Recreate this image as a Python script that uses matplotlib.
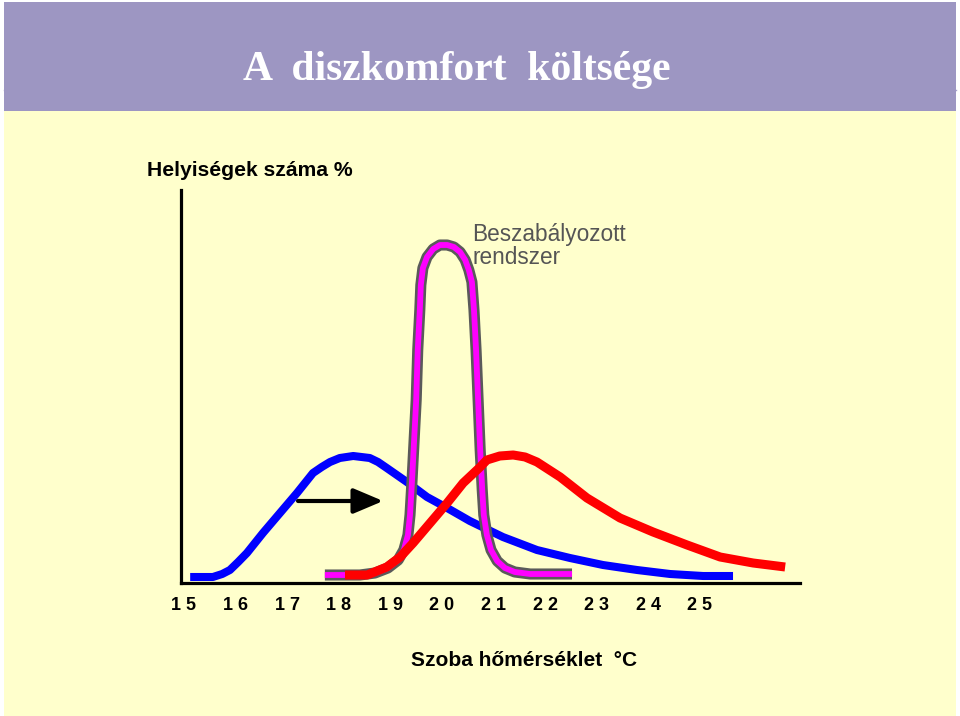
import matplotlib
matplotlib.use("Agg")
import matplotlib.pyplot as plt
from matplotlib.patches import Rectangle

# -----------------------------
# DATA
# -----------------------------

tick_values = [15, 16, 17, 18, 19, 20, 21, 22, 23, 24, 25]
tick_labels = ["1 5", "1 6", "1 7", "1 8", "1 9", "2 0", "2 1", "2 2", "2 3", "2 4", "2 5"]

# unregulated system (blue)
blue_t = [15.12, 15.56, 15.74, 15.89, 16.05, 16.22, 16.53, 16.86, 17.19, 17.50,
          17.67, 17.83, 18.02, 18.28, 18.60, 18.76, 18.93, 19.32, 19.71, 20.10,
          20.54, 21.18, 21.84, 22.48, 23.12, 23.78, 24.42, 25.06, 25.64]
blue_y = [0.6, 0.6, 0.9, 1.3, 2.1, 3.0, 5.0, 7.0, 9.0, 11.0,
          11.6, 12.1, 12.5, 12.7, 12.5, 12.1, 11.5, 10.1, 8.6, 7.5,
          6.2, 4.6, 3.3, 2.5, 1.8, 1.3, 0.9, 0.7, 0.7]

# shifted system (red)
red_t = [18.12, 18.55, 18.93, 19.19, 19.44, 19.77, 20.10, 20.41, 20.74, 20.87,
         21.12, 21.38, 21.61, 21.84, 22.29, 22.81, 23.45, 24.09, 24.75, 25.39,
         26.03, 26.65]
red_y = [0.8, 0.8, 1.6, 2.6, 4.0, 6.0, 8.0, 10.0, 11.6, 12.3,
         12.7, 12.8, 12.6, 12.1, 10.6, 8.5, 6.5, 5.1, 3.8, 2.6,
         2.0, 1.6]

# regulated system (magenta)
mag_t = [17.73, 18.41, 18.70, 18.95, 19.15, 19.26, 19.34, 19.38, 19.42, 19.46,
         19.50, 19.53, 19.57, 19.59, 19.63, 19.71, 19.83, 19.96, 20.10, 20.23,
         20.35, 20.45, 20.52, 20.58, 20.62, 20.66, 20.70, 20.74, 20.78, 20.81,
         20.87, 20.95, 21.07, 21.22, 21.41, 21.71, 22.52]
mag_y = [0.8, 0.8, 1.0, 1.5, 2.3, 3.3, 4.8, 6.8, 10.3, 14.3,
         18.3, 23.3, 27.3, 29.8, 31.5, 32.6, 33.4, 33.8, 33.8, 33.6,
         33.1, 32.3, 31.3, 30.1, 27.3, 23.3, 18.3, 13.3, 9.3, 6.8,
         4.8, 3.3, 2.2, 1.5, 1.1, 0.9, 0.9]

# shift arrow
arrow_from = (17.21, 8.2)
arrow_to = (18.86, 8.2)

W, H = 960, 716


def fx(px):
    return px / W


def fy(py):
    return 1 - py / H


fig = plt.figure(figsize=(9.6, 7.16), dpi=100, facecolor="white")

# slide background
fig.patches.append(Rectangle((fx(4), 0), fx(952), fy(111), transform=fig.transFigure,
                             facecolor="#FFFFCC", edgecolor="none", zorder=0))
fig.patches.append(Rectangle((fx(4), fy(111)), fx(952), 109 / H, transform=fig.transFigure,
                             facecolor="#9D96C2", edgecolor="none", zorder=0))
fig.lines.append(plt.Line2D([fx(4), fx(956)], [fy(90), fy(90)], transform=fig.transFigure,
                            color="#A9A2CB", lw=1, zorder=0))

fig.text(fx(457), fy(80), "A  diszkomfort  költsége", family="Liberation Serif",
         weight="bold", fontsize=30, color="white", ha="center", va="baseline")

# -----------------------------
# CHART
# -----------------------------

ax = fig.add_axes([fx(181), fy(583), fx(800 - 181), (583 - 190) / H])
ax.set_zorder(2)
ax.set_facecolor("none")

ax.plot(blue_t, blue_y, color="#0000FF", lw=5.8, solid_capstyle="butt",
        solid_joinstyle="round", zorder=2)
ax.plot(mag_t, mag_y, color="#5A5A5A", lw=8, solid_capstyle="butt",
        solid_joinstyle="round", zorder=3)
ax.plot(mag_t, mag_y, color="#FF00FF", lw=4.2, solid_capstyle="butt",
        solid_joinstyle="round", zorder=4)
ax.plot(red_t, red_y, color="#FF0000", lw=6.5, solid_capstyle="butt",
        solid_joinstyle="round", zorder=5)

ax.annotate("", xy=arrow_to, xytext=arrow_from,
            arrowprops=dict(arrowstyle="-|>,head_length=1.3,head_width=0.55",
                            mutation_scale=14, color="black", lw=3,
                            shrinkA=0, shrinkB=0), zorder=6)

ax.set_xlim(14.942, 26.938)
ax.set_ylim(0, 39.3)

for side in ["top", "right"]:
    ax.spines[side].set_visible(False)
for side in ["left", "bottom"]:
    ax.spines[side].set_linewidth(2.3)
    ax.spines[side].set_color("black")

ax.set_yticks([])
ax.set_xticks(tick_values)
ax.set_xticklabels(tick_labels, family="Liberation Sans", weight="bold", fontsize=13)
ax.tick_params(axis="x", length=0, pad=10)

fig.text(fx(147), fy(170), "Helyiségek száma %", family="Liberation Sans",
         weight="bold", fontsize=15.2, ha="left", va="center")
fig.text(fx(524), fy(661), "Szoba hőmérséklet  °C", family="Liberation Sans",
         weight="bold", fontsize=15, ha="center", va="center")

fig.text(fx(472), fy(241), "Beszabályozott", family="Liberation Sans",
         fontsize=16.3, color="#555555", ha="left", va="baseline")
fig.text(fx(472), fy(264), "rendszer", family="Liberation Sans",
         fontsize=16.3, color="#555555", ha="left", va="baseline")

fig.savefig("out.png", dpi=100, facecolor=fig.get_facecolor())
